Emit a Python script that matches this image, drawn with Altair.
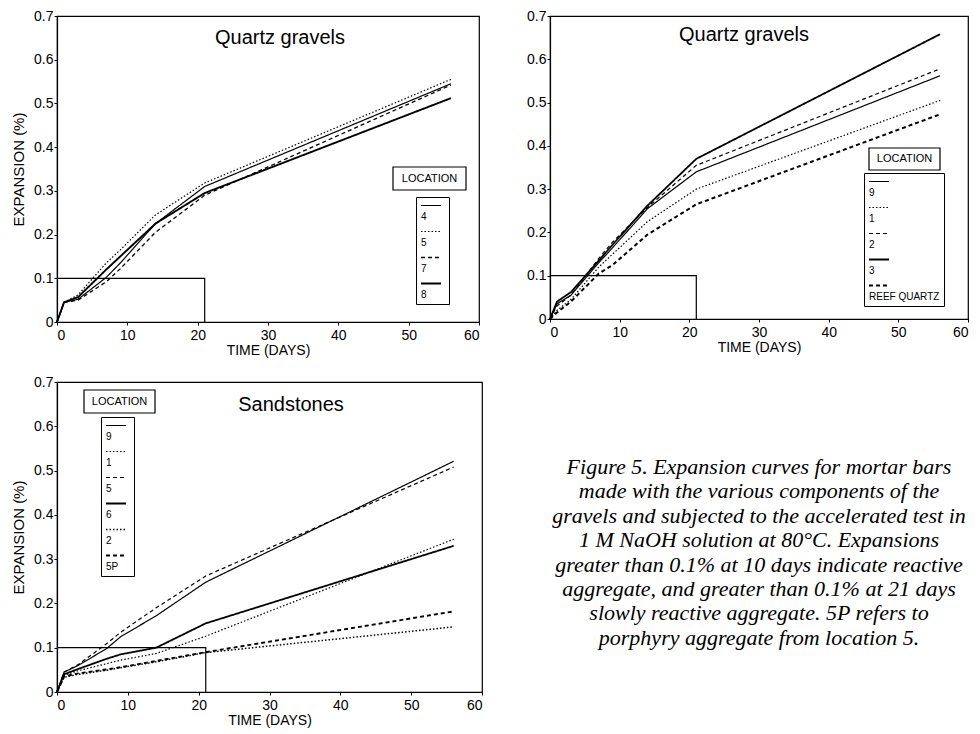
import altair as alt
import pandas as pd

# ---------------- data ----------------
days = [0, 1, 3, 7, 9, 14, 21, 56]

# Top-left: Quartz gravels, locations 4, 5, 7, 8
qa_names = ["4", "5", "7", "8"]
qa_4 = [0, 0.045, 0.052, 0.102, 0.135, 0.225, 0.310, 0.545]
qa_5 = [0, 0.045, 0.062, 0.135, 0.165, 0.245, 0.318, 0.555]
qa_7 = [0, 0.045, 0.050, 0.092, 0.122, 0.205, 0.290, 0.542]
qa_8 = [0, 0.045, 0.057, 0.120, 0.150, 0.225, 0.295, 0.512]

# Top-right: Quartz gravels, locations 9, 1, 2, 3, reef quartz
qb_names = ["9", "1", "2", "3", "REEF QUARTZ"]
qb_9 = [0, 0.035, 0.055, 0.130, 0.165, 0.255, 0.340, 0.562]
qb_1 = [0, 0.020, 0.045, 0.120, 0.150, 0.225, 0.300, 0.505]
qb_2 = [0, 0.030, 0.055, 0.140, 0.178, 0.258, 0.355, 0.578]
qb_3 = [0, 0.040, 0.062, 0.135, 0.172, 0.262, 0.370, 0.658]
qb_reef = [0, 0.015, 0.040, 0.105, 0.125, 0.195, 0.265, 0.473]

# Bottom-left: Sandstones, locations 9, 1, 5, 6, 2, 5P
sc_names = ["9", "1", "5", "6", "2", "5P"]
sc_9 = [0, 0.045, 0.060, 0.098, 0.125, 0.172, 0.248, 0.521]
sc_1 = [0, 0.038, 0.048, 0.064, 0.072, 0.087, 0.126, 0.345]
sc_5 = [0, 0.045, 0.062, 0.109, 0.135, 0.190, 0.262, 0.508]
sc_6 = [0, 0.040, 0.052, 0.075, 0.085, 0.100, 0.155, 0.330]
sc_2 = [0, 0.033, 0.040, 0.049, 0.055, 0.068, 0.089, 0.147]
sc_5p = [0, 0.035, 0.042, 0.051, 0.056, 0.070, 0.090, 0.182]

# 0.1 % threshold box (0.1 % up to 21 days)
thr_days = [0, 21, 21]
thr_exp = [0.1, 0.1, 0]

x_ticks = [0, 10, 20, 30, 40, 50, 60]
y_ticks = [0, 0.1, 0.2, 0.3, 0.4, 0.5, 0.6, 0.7]

caption_lines = [
    "Figure 5.  Expansion curves for mortar bars",
    "made with the various components of the",
    "gravels and subjected to the accelerated test in",
    "1 M NaOH solution at 80\u00b0C. Expansions",
    "greater than 0.1% at 10 days indicate reactive",
    "aggregate, and greater than 0.1% at 21 days",
    "slowly reactive aggregate. 5P refers to",
    "porphyry aggregate from location 5.",
]

SOLID = [1, 0]
DOT = [1.5, 2]
DASH = [4, 3]
SANS = "Liberation Sans"
# legend key: a short horizontal stroke drawn in the upper part of the entry,
# so that the label (top baseline at the entry centre) sits below it
KEY_PATH = "M-1,-0.65H1"


def panel(names, series, dashes, widths, title, title_xy, legend_xy, loc_box,
          width, height, y_title):
    rows = []
    for n, vals in zip(names, series):
        for d, v in zip(days, vals):
            rows.append({"location": n, "days": d, "exp": v})
    df = pd.DataFrame(rows)

    leg = alt.Legend(
        title=None, orient="none", legendX=legend_xy[0], legendY=legend_xy[1],
        direction="vertical", symbolType=KEY_PATH, symbolSize=400,
        symbolStrokeColor="black", symbolFillColor="transparent",
        labelBaseline="top", labelOffset=alt.ExprRef(expr="-21"),
        labelFont=SANS, labelFontSize=10, labelColor="black",
        strokeColor="black", padding=4, rowPadding=5, fillColor="white",
    )
    x = alt.X("days:Q", scale=alt.Scale(domain=[0, 60], nice=False),
              axis=alt.Axis(values=x_ticks, title="TIME (DAYS)"))
    y_axis = alt.Axis(values=y_ticks, format="~g", title=y_title) if y_title \
        else alt.Axis(values=y_ticks, format="~g", title=None)
    y = alt.Y("exp:Q", scale=alt.Scale(domain=[0, 0.7], nice=False), axis=y_axis)

    lines = alt.Chart(df).mark_line(color="black", strokeCap="butt").encode(
        x=x, y=y,
        strokeDash=alt.StrokeDash("location:N",
                                  scale=alt.Scale(domain=names, range=dashes),
                                  legend=leg),
        strokeWidth=alt.StrokeWidth("location:N",
                                    scale=alt.Scale(type="ordinal", domain=names, range=widths),
                                    legend=leg),
    )

    thr_df = pd.DataFrame({"days": thr_days, "exp": thr_exp, "k": [0, 1, 2]})
    thr = alt.Chart(thr_df).mark_line(color="black", strokeWidth=1.2).encode(
        x="days:Q", y="exp:Q", order="k:Q")

    ttl = alt.Chart(pd.DataFrame({"t": [title]})).mark_text(
        font=SANS, fontSize=20, color="black").encode(
        text="t:N", x=alt.value(title_xy[0]), y=alt.value(title_xy[1]))

    box = alt.Chart(pd.DataFrame({"t": ["LOCATION"]})).mark_rect(
        fill="white", stroke="black", strokeWidth=1.2).encode(
        x=alt.value(loc_box[0]), x2=alt.value(loc_box[1]),
        y=alt.value(loc_box[2]), y2=alt.value(loc_box[3]))
    box_txt = alt.Chart(pd.DataFrame({"t": ["LOCATION"]})).mark_text(
        font=SANS, fontSize=11, color="black").encode(
        text="t:N", x=alt.value((loc_box[0] + loc_box[1]) / 2),
        y=alt.value((loc_box[2] + loc_box[3]) / 2))

    return alt.layer(thr, lines, ttl, box, box_txt).properties(width=width, height=height)


p1 = panel(qa_names, [qa_4, qa_5, qa_7, qa_8],
           [SOLID, DOT, DASH, SOLID], [1.2, 1.2, 1.3, 1.9],
           "Quartz gravels", (223, 22), (359, 181), (336, 409, 151, 174),
           422, 306, "EXPANSION (%)")

p2 = panel(qb_names, [qb_9, qb_1, qb_2, qb_3, qb_reef],
           [SOLID, DOT, DASH, SOLID, DASH], [1.2, 1.2, 1.2, 1.8, 2.0],
           "Quartz gravels", (194, 19), (314, 157), (319, 390, 132, 154),
           418, 303, None)

p3 = panel(sc_names, [sc_9, sc_1, sc_5, sc_6, sc_2, sc_5p],
           [SOLID, DOT, DASH, SOLID, DOT, DASH], [1.2, 1.2, 1.2, 1.8, 1.5, 1.9],
           "Sandstones", (234, 23), (44, 35), (27, 98, 8, 31),
           425, 310, "EXPANSION (%)")

cap = alt.Chart(pd.DataFrame({"i": [0]})).mark_text(
    font="Liberation Serif", fontStyle="italic", fontSize=22, lineHeight=24.4,
    align="center", baseline="alphabetic", color="black").encode(
    text=alt.value(caption_lines), x=alt.value(209), y=alt.value(92)
).properties(width=418, height=310, view=alt.ViewBackground(strokeOpacity=0))

chart = alt.concat(
    p1, p2, p3, cap, columns=2, spacing={"row": 60, "column": 68}, bounds="flush"
).resolve_scale(
    strokeDash="independent", strokeWidth="independent"
).resolve_legend(
    strokeDash="independent", strokeWidth="independent"
).properties(
    padding={"left": 2, "top": 0, "right": 0, "bottom": 0}
).configure_view(
    stroke="black", strokeWidth=1.2
).configure_axis(
    labelFont=SANS, labelFontSize=14, labelColor="black",
    titleFont=SANS, titleFontSize=14, titleFontWeight="normal", titleColor="black",
    tickSize=3, tickColor="black", domainColor="black", domainWidth=1.2, grid=False,
).configure_axisY(
    labelPadding=1, titlePadding=7, titleFontSize=15
).configure_axisX(
    labelPadding=3, titlePadding=1
)

chart.save("out.html", embed_options={"renderer": "svg", "actions": False})
